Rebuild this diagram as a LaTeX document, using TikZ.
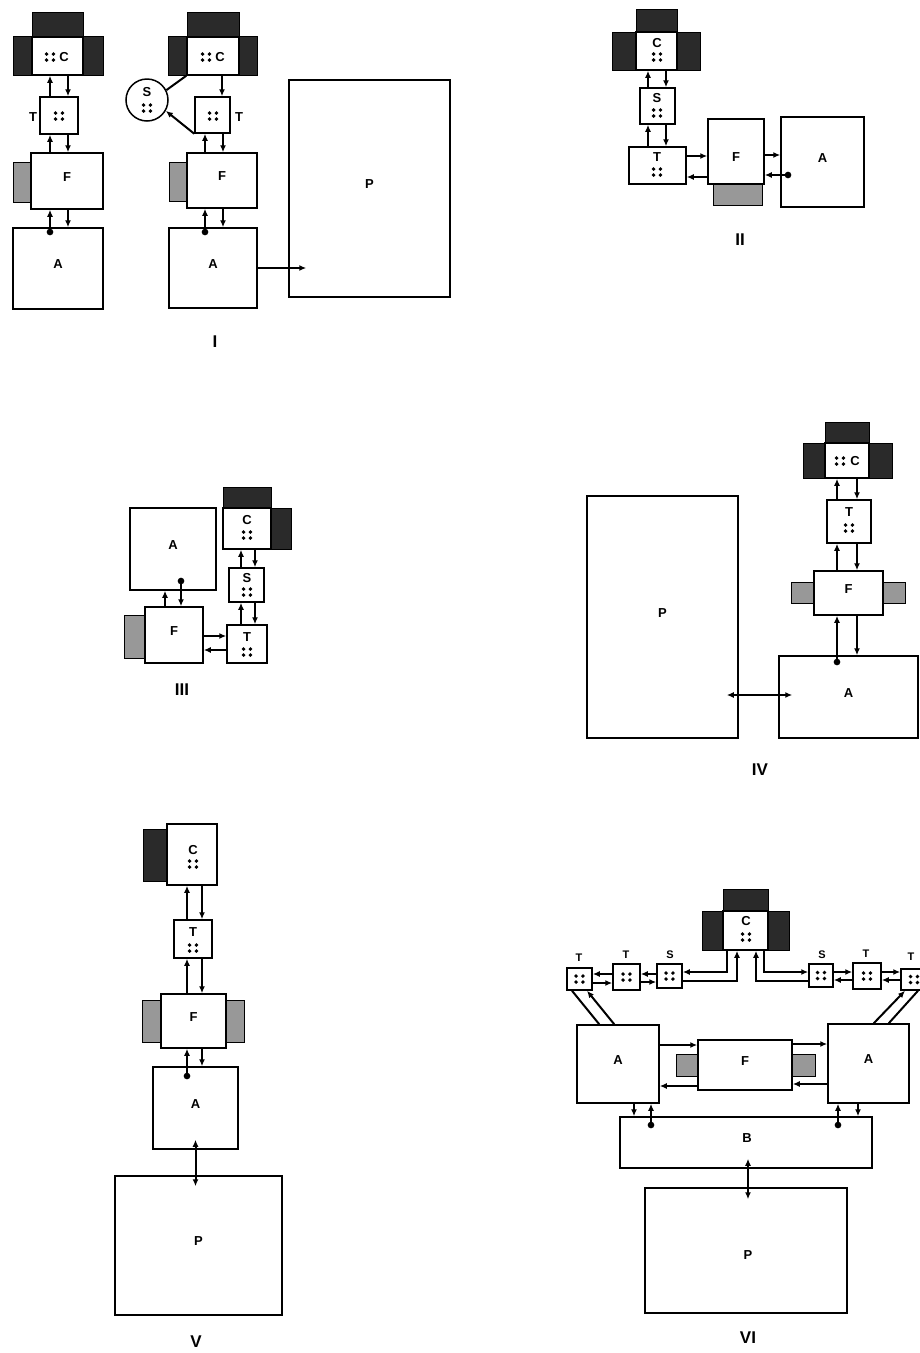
\documentclass[tikz,border=0pt]{standalone}
\usepackage{fontspec}
\setmainfont{Liberation Sans}
\usetikzlibrary{arrows.meta,fit}
\definecolor{housing}{RGB}{42,42,42}
\definecolor{tabgrey}{RGB}{152,152,152}

\begin{document}
\begin{tikzpicture}[x=1pt, y=-1pt,
  font=\bfseries\fontsize{13}{13}\selectfont,
  box/.style={draw=black, fill=white, line width=1.5pt, inner sep=0pt},
  lbl/.style={inner sep=0pt},
  slbl/.style={inner sep=0pt, font=\bfseries\fontsize{11}{11}\selectfont},
  numeral/.style={inner sep=0pt, font=\bfseries\fontsize{17}{17}\selectfont},
  housing/.style={fill=housing, draw=black, line width=0.6pt},
  tab/.style={fill=tabgrey, draw=black, line width=1pt},
  arr/.style={-{Latex[length=7pt,width=6pt]}, line width=2pt},
  dbl/.style={{Latex[length=7pt,width=6pt]}-{Latex[length=7pt,width=6pt]}, line width=2pt},
  dotarr/.style={{Circle[length=6.5pt]}-{Latex[length=7pt,width=6pt]}, line width=2pt},
  quad/.pic={\foreach \i in {-1,1} \foreach \j in {-1,1} \fill (\i*3.4pt,\j*3pt) circle (1.9pt);}
]
\path[fill=white, use as bounding box] (0,0) rectangle (919,1353);

% ---- I, left column
\filldraw[housing] (32,12) rectangle (83,38);
\filldraw[housing] (13,36) rectangle (32,75);
\filldraw[housing] (83,36) rectangle (103,75);
\node[box, fit={(32,37) (83,75)}] (cIa) {};
\pic at (50,57) {quad};
\node[lbl] (lcIa) at (64,57) {C};
\node[box, fit={(40,97) (78,134)}] (tIa) {};
\pic at (59,116) {quad};
\node[lbl] (ltIa) at (33,117) {T};
\filldraw[tab] (13,162) rectangle (31,202);
\node[box, fit={(31,153) (103,209)}] (fIa) {F};
\node[box, fit={(13,228) (103,309)}] (aIa) {A};
\draw[arr] ([xshift=-9pt]tIa.north) -- ([xshift=-9pt]tIa.north |- cIa.south);
\draw[arr] ([xshift=9pt]tIa.north |- cIa.south) -- ([xshift=9pt]tIa.north);
\draw[arr] ([xshift=-9pt]tIa.south |- fIa.north) -- ([xshift=-9pt]tIa.south);
\draw[arr] ([xshift=9pt]tIa.south) -- ([xshift=9pt]tIa.south |- fIa.north);
\draw[dotarr] ([xshift=-9pt,yshift=-8pt]tIa.south |- aIa.north) -- ([xshift=-9pt]tIa.south |- fIa.south);
\draw[arr] ([xshift=9pt]tIa.south |- fIa.south) -- ([xshift=9pt]tIa.south |- aIa.north);

% ---- I, right column
\filldraw[housing] (187,12) rectangle (239,38);
\filldraw[housing] (168,36) rectangle (187,75);
\filldraw[housing] (239,36) rectangle (257,75);
\node[box, fit={(187,37) (239,75)}] (cIb) {};
\pic at (206,57) {quad};
\node[lbl] (lcIb) at (220,57) {C};
\node[box, circle, minimum size=42pt] (sIb) at (147,100) {};
\node[lbl] (lsIb) at (147,92) {S};
\pic at (147,108) {quad};
\node[box, fit={(195,97) (230,133)}] (tIb) {};
\pic at (213,116) {quad};
\node[lbl] (ltIb) at (239,117) {T};
\filldraw[tab] (169,162) rectangle (187,201);
\node[box, fit={(187,153) (257,208)}] (fIb) {F};
\node[box, fit={(169,228) (257,308)}] (aIb) {A};
\node[box, fit={(289,80) (450,297)}] (pIb) {P};
\draw[arr] ([xshift=9.5pt]tIb.north |- cIb.south) -- ([xshift=9.5pt]tIb.north);
\draw[line width=2pt] (sIb.27) -- (cIb.south west);
\draw[arr] (tIb.south west) -- (sIb.-30);
\draw[arr] ([xshift=-7.5pt]tIb.south |- fIb.north) -- ([xshift=-7.5pt]tIb.south);
\draw[arr] ([xshift=10.5pt]tIb.south) -- ([xshift=10.5pt]tIb.south |- fIb.north);
\draw[dotarr] ([xshift=-7.5pt,yshift=-8pt]tIb.south |- aIb.north) -- ([xshift=-7.5pt]tIb.south |- fIb.south);
\draw[arr] ([xshift=10.5pt]tIb.south |- fIb.south) -- ([xshift=10.5pt]tIb.south |- aIb.north);
\draw[arr] (aIb.east) -- ([xshift=18pt]pIb.west |- aIb.east);
\node[numeral] (nI) at (215,342) {I};

% ---- II
\filldraw[housing] (636,9) rectangle (677,33);
\filldraw[housing] (612,32) rectangle (636,70);
\filldraw[housing] (677,32) rectangle (700,70);
\node[box, fit={(636,32) (677,70)}] (cII) {};
\node[lbl] (lcII) at (657,43) {C};
\pic at (657,57) {quad};
\node[box, fit={(640,88) (675,124)}] (sII) {};
\node[lbl] (lsII) at (657,98) {S};
\pic at (657,113) {quad};
\node[box, fit={(629,147) (686,184)}] (tII) {};
\node[lbl] (ltII) at (657,157) {T};
\pic at (657,172) {quad};
\draw[arr] ([xshift=-9.5pt]sII.north) -- ([xshift=-9.5pt]sII.north |- cII.south);
\draw[arr] ([xshift=8.5pt]sII.north |- cII.south) -- ([xshift=8.5pt]sII.north);
\draw[arr] ([xshift=-9.5pt]sII.south |- tII.north) -- ([xshift=-9.5pt]sII.south);
\draw[arr] ([xshift=8.5pt]sII.south) -- ([xshift=8.5pt]sII.south |- tII.north);
\filldraw[tab] (713,183) rectangle (762,205);
\node[box, fit={(708,119) (764,184)}] (fII) {};
\node[lbl] (lfII) at (736,157) {F};
\node[box, fit={(781,117) (864,207)}] (aII) {A};
\draw[arr] ([yshift=9.5pt]tII.east) -- ([yshift=9.5pt]tII.east -| fII.west);
\draw[arr] ([yshift=-11.5pt]tII.east -| fII.west) -- ([yshift=-11.5pt]tII.east);
\draw[arr] ([yshift=-3.5pt]fII.east) -- ([yshift=-3.5pt]fII.east -| aII.west);
\draw[dotarr] ([yshift=-23.5pt,xshift=11pt]fII.east -| aII.west) -- ([yshift=-23.5pt]fII.east);
\node[numeral] (nII) at (740,240) {II};

% ---- III
\node[box, fit={(130,508) (216,590)}] (aIII) {A};
\filldraw[housing] (223,487) rectangle (271,509);
\filldraw[housing] (270,508) rectangle (291,549);
\node[box, fit={(223,508) (271,549)}] (cIII) {};
\node[lbl] (lcIII) at (247,520) {C};
\pic at (247,535) {quad};
\node[box, fit={(229,568) (264,602)}] (sIII) {};
\node[lbl] (lsIII) at (247,578) {S};
\pic at (247,592) {quad};
\node[box, fit={(227,625) (267,663)}] (tIII) {};
\node[lbl] (ltIII) at (247,637) {T};
\pic at (247,652) {quad};
\filldraw[tab] (124,615) rectangle (145,658);
\node[box, fit={(145,607) (203,663)}] (fIII) {F};
\draw[arr] ([xshift=-5.5pt]sIII.north) -- ([xshift=-5.5pt]sIII.north |- cIII.south);
\draw[arr] ([xshift=8.5pt]sIII.north |- cIII.south) -- ([xshift=8.5pt]sIII.north);
\draw[arr] ([xshift=-5.5pt]sIII.south |- tIII.north) -- ([xshift=-5.5pt]sIII.south);
\draw[arr] ([xshift=8.5pt]sIII.south) -- ([xshift=8.5pt]sIII.south |- tIII.north);
\draw[arr] ([xshift=-9pt]fIII.north) -- ([xshift=-9pt]fIII.north |- aIII.south);
\draw[dotarr] ([xshift=7pt,yshift=13pt]fIII.north |- aIII.south) -- ([xshift=7pt]fIII.north);
\draw[arr] ([yshift=-1pt]fIII.east) -- ([yshift=-1pt]fIII.east -| tIII.west);
\draw[arr] ([yshift=-15pt]fIII.east -| tIII.west) -- ([yshift=-15pt]fIII.east);
\node[numeral] (nIII) at (182,690) {III};

% ---- IV
\filldraw[housing] (825,422) rectangle (869,444);
\filldraw[housing] (803,443) rectangle (825,478);
\filldraw[housing] (869,443) rectangle (892,478);
\node[box, fit={(825,443) (869,478)}] (cIV) {};
\pic at (840,461) {quad};
\node[lbl] (lcIV) at (855,461) {C};
\node[box, fit={(827,500) (871,543)}] (tIV) {};
\node[lbl] (ltIV) at (849,512) {T};
\pic at (849,528) {quad};
\filldraw[tab] (791,582) rectangle (814,603);
\filldraw[tab] (883,582) rectangle (905,603);
\node[box, fit={(814,571) (883,615)}] (fIV) {F};
\node[box, fit={(779,656) (918,738)}] (aIV) {A};
\node[box, fit={(587,496) (738,738)}] (pIV) {P};
\draw[arr] ([xshift=-12pt]tIV.north) -- ([xshift=-12pt]tIV.north |- cIV.south);
\draw[arr] ([xshift=8pt]tIV.north |- cIV.south) -- ([xshift=8pt]tIV.north);
\draw[arr] ([xshift=-12pt]tIV.south |- fIV.north) -- ([xshift=-12pt]tIV.south);
\draw[arr] ([xshift=8pt]tIV.south) -- ([xshift=8pt]tIV.south |- fIV.north);
\draw[dotarr] ([xshift=-12pt,yshift=-10pt]tIV.south |- aIV.north) -- ([xshift=-12pt]tIV.south |- fIV.south);
\draw[arr] ([xshift=8pt]tIV.south |- fIV.south) -- ([xshift=8pt]tIV.south |- aIV.north);
\draw[dbl] ([xshift=-12pt,yshift=2pt]pIV.east |- aIV.west) -- ([xshift=14pt,yshift=2pt]aIV.west);
\node[numeral] (nIV) at (760,770) {IV};

% ---- V
\filldraw[housing] (143,829) rectangle (168,881);
\node[box, fit={(167,824) (217,885)}] (cV) {};
\node[lbl] (lcV) at (193,850) {C};
\pic at (193,864) {quad};
\node[box, fit={(174,920) (212,958)}] (tV) {};
\node[lbl] (ltV) at (193,932) {T};
\pic at (193,948) {quad};
\filldraw[tab] (142,1000) rectangle (161,1042);
\filldraw[tab] (226,1000) rectangle (244,1042);
\node[box, fit={(161,994) (226,1048)}] (fV) {F};
\node[box, fit={(153,1067) (238,1149)}] (aV) {A};
\node[box, fit={(115,1176) (282,1315)}] (pV) {P};
\draw[arr] ([xshift=-6pt]tV.north) -- ([xshift=-6pt]tV.north |- cV.south);
\draw[arr] ([xshift=9pt]tV.north |- cV.south) -- ([xshift=9pt]tV.north);
\draw[arr] ([xshift=-6pt]tV.south |- fV.north) -- ([xshift=-6pt]tV.south);
\draw[arr] ([xshift=9pt]tV.south) -- ([xshift=9pt]tV.south |- fV.north);
\draw[dotarr] ([xshift=-6pt,yshift=-13pt]tV.south |- aV.north) -- ([xshift=-6pt]tV.south |- fV.south);
\draw[arr] ([xshift=9pt]tV.south |- fV.south) -- ([xshift=9pt]tV.south |- aV.north);
\draw[dbl] ([yshift=10pt]aV.south) -- ([yshift=-11pt]aV.south |- pV.north);
\node[numeral] (nV) at (196,1342) {V};

% ---- VI
\filldraw[housing] (723,889) rectangle (768,912);
\filldraw[housing] (702,911) rectangle (723,950);
\filldraw[housing] (768,911) rectangle (789,950);
\node[box, fit={(723,911) (768,950)}] (cVI) {};
\node[lbl] (lcVI) at (746,921) {C};
\pic at (746,937) {quad};
\node[box, fit={(657,964) (682,988)}] (sVIa) {};
\pic at (sVIa.center) {quad};
\node[slbl] (lsVIa) at (670,955) {S};
\node[box, fit={(613,964) (640,990)}] (tVIb) {};
\pic at (tVIb.center) {quad};
\node[slbl] (ltVIb) at (626,955) {T};
\node[box, fit={(567,968) (592,990)}] (tVIa) {};
\pic at (tVIa.center) {quad};
\node[slbl] (ltVIa) at (579,958) {T};
\node[box, fit={(809,964) (833,987)}] (sVIb) {};
\pic at (sVIb.center) {quad};
\node[slbl] (lsVIb) at (822,955) {S};
\node[box, fit={(853,963) (881,989)}] (tVIc) {};
\pic at (tVIc.center) {quad};
\node[slbl] (ltVIc) at (866,954) {T};
\node[box, fit={(901,969) (927,990)}] (tVId) {};
\pic at (tVId.center) {quad};
\node[slbl] (ltVId) at (911,957) {T};
\draw[arr] ([xshift=-18.5pt]cVI.south) |- ([yshift=4pt]sVIa.east);
\draw[arr] ([yshift=-5pt]sVIa.east) -| ([xshift=-8.5pt]cVI.south);
\draw[arr] ([xshift=18.5pt]cVI.south) |- ([yshift=3.5pt]sVIb.west);
\draw[arr] ([yshift=-5.5pt]sVIb.west) -| ([xshift=10.5pt]cVI.south);
\draw[arr] ([yshift=2pt]sVIa.west) -- ([yshift=2pt]sVIa.west -| tVIb.east);
\draw[arr] ([yshift=-6pt]sVIa.west -| tVIb.east) -- ([yshift=-6pt]sVIa.west);
\draw[arr] ([yshift=5pt]tVIa.east -| tVIb.west) -- ([yshift=5pt]tVIa.east);
\draw[arr] ([yshift=-4pt]tVIa.east) -- ([yshift=-4pt]tVIa.east -| tVIb.west);
\draw[arr] ([yshift=3.5pt]sVIb.east) -- ([yshift=3.5pt]sVIb.east -| tVIc.west);
\draw[arr] ([yshift=-4.5pt]sVIb.east -| tVIc.west) -- ([yshift=-4.5pt]sVIb.east);
\draw[arr] ([yshift=4pt]tVIc.east) -- ([yshift=4pt]tVIc.east -| tVId.west);
\draw[arr] ([yshift=-4pt]tVIc.east -| tVId.west) -- ([yshift=-4pt]tVIc.east);
\node[box, fit={(577,1025) (659,1103)}] (aVIa) {A};
\node[box, fit={(828,1024) (909,1103)}] (aVIb) {A};
\draw[line width=2pt] ([xshift=-7.5pt]tVIa.south) -- ([xshift=23pt]aVIa.north west);
\draw[arr] ([xshift=38pt]aVIa.north west) -- ([xshift=7.5pt]tVIa.south);
\draw[arr] ([xshift=-36pt]aVIb.north east) -- ([xshift=-9pt]tVId.south);
\draw[line width=2pt] ([xshift=4pt]tVId.south) -- ([xshift=-21pt]aVIb.north east);
\filldraw[tab] (676,1054) rectangle (698,1076);
\filldraw[tab] (792,1054) rectangle (815,1076);
\node[box, fit={(698,1040) (792,1090)}] (fVI) {F};
\draw[arr] ([yshift=20pt]fVI.west -| aVIa.east) -- ([yshift=20pt]fVI.west);
\draw[arr] ([yshift=-21pt]fVI.west) -- ([yshift=-21pt]fVI.west -| aVIa.east);
\draw[arr] ([yshift=21pt]fVI.east) -- ([yshift=21pt]fVI.east -| aVIb.west);
\draw[arr] ([yshift=-19pt]fVI.east -| aVIb.west) -- ([yshift=-19pt]fVI.east);
\node[box, fit={(620,1117) (872,1168)}] (bVI) {};
\node[lbl] (lbVI) at (747,1138) {B};
\draw[arr] ([xshift=16pt]aVIa.south) -- ([xshift=16pt]aVIa.south |- bVI.north);
\draw[dotarr] ([xshift=33pt,yshift=-12pt]aVIa.south |- bVI.north) -- ([xshift=33pt]aVIa.south);
\draw[dotarr] ([xshift=-30.5pt,yshift=-12pt]aVIb.south |- bVI.north) -- ([xshift=-30.5pt]aVIb.south);
\draw[arr] ([xshift=-10.5pt]aVIb.south) -- ([xshift=-10.5pt]aVIb.south |- bVI.north);
\node[box, fit={(645,1188) (847,1313)}] (pVI) {};
\node[lbl] (lpVI) at (748,1255) {P};
\draw[dbl] ([xshift=2pt,yshift=10pt]bVI.south) -- ([xshift=2pt,yshift=-12pt]bVI.south |- pVI.north);
\node[numeral] (nVI) at (748,1338) {VI};
\end{tikzpicture}
\end{document}
